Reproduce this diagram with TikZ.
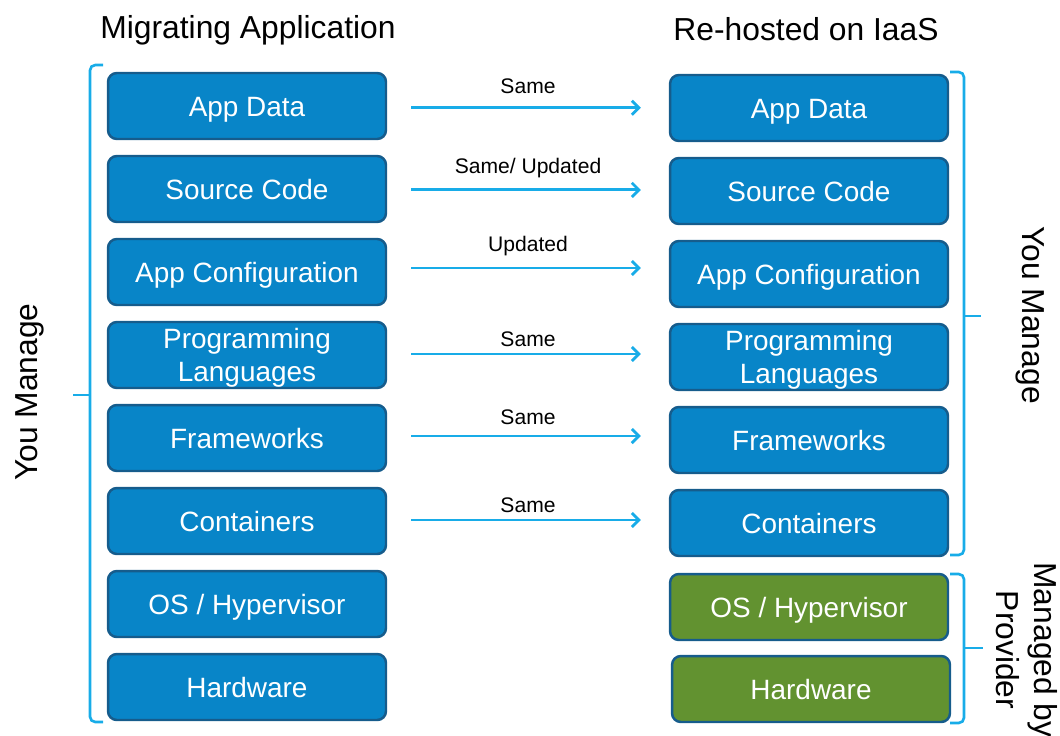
\documentclass[tikz,border=0pt]{standalone}
\usepackage{fontspec}
\setmainfont{Liberation Sans}
\usepackage{xcolor}
\usetikzlibrary{arrows.meta, positioning}
\definecolor{boxblue}{RGB}{8, 133, 200}
\definecolor{edgeblue}{RGB}{22, 92, 140}
\definecolor{provgreen}{RGB}{98, 146, 48}
\definecolor{linkblue}{RGB}{24, 172, 232}

\begin{document}
\begin{tikzpicture}[x=0.02cm,y=-0.02cm,
          layer/.style={draw=edgeblue,line width=1.4pt,fill=boxblue,
                        rounded corners=5pt,minimum width=5.56cm,minimum height=1.32cm,
                        text=white,align=center,inner sep=2pt,
                        text height=11.4pt,text depth=0pt,
                        font=\fontsize{15.9}{19}\selectfont},
          twoline/.style={text height=30.4pt,text depth=0pt},
          prov/.style={layer,fill=provgreen},
          flow/.style={linkblue,line width=1.6pt,shorten <=13.6pt,shorten >=15.9pt,
                       -{Straight Barb[length=4pt,width=8pt]}},
          tag/.style={font=\fontsize{12}{14}\selectfont,text=black},
          brace/.style={linkblue,line width=1.5pt,rounded corners=3pt},
          head/.style={font=\fontsize{18.1}{21.7}\selectfont}]
        \useasboundingbox (0,0) rectangle (1060,735);
        % column titles
        \node[head](hl) at (248,30) {Migrating Application};
        \node[head](hr) at (806,29) {Re-hosted on IaaS};
        % migrating stack
        \node[layer](l1) at (247,106) {App Data};
        \node[layer](l2) at (247,189) {Source Code};
        \node[layer](l3) at (247,272) {App Configuration};
        \node[layer,twoline](l4) at (247,355) {Programming\\Languages};
        \node[layer](l5) at (247,438) {Frameworks};
        \node[layer](l6) at (247,521) {Containers};
        \node[layer](l7) at (247,604) {OS / Hypervisor};
        \node[layer](l8) at (247,687) {Hardware};
        % IaaS stack
        \node[layer](r1) at (809,108) {App Data};
        \node[layer](r2) at (809,191) {Source Code};
        \node[layer](r3) at (809,274) {App Configuration};
        \node[layer,twoline](r4) at (809,357) {Programming\\Languages};
        \node[layer](r5) at (809,440) {Frameworks};
        \node[layer](r6) at (809,523) {Containers};
        \node[prov](r7) at (809,607) {OS / Hypervisor};
        \node[prov](r8) at (811,689) {Hardware};
        % what changes
        \draw[flow] ([yshift=-1pt]l1.east) -- ([yshift=-1pt]l1.east -| r1.west)
          node[midway,tag,above=4pt]{Same};
        \draw[flow] ([yshift=-0.5pt]l2.east) -- ([yshift=-0.5pt]l2.east -| r2.west)
          node[midway,tag,above=2.9pt]{Same/ Updated};
        \draw[flow] ([yshift=2.3pt]l3.east) -- ([yshift=2.3pt]l3.east -| r3.west)
          node[midway,tag,above=2.9pt]{Updated};
        \draw[flow] ([yshift=0.6pt]l4.east) -- ([yshift=0.6pt]l4.east -| r4.west)
          node[midway,tag,above=0pt]{Same};
        \draw[flow] ([yshift=1.1pt]l5.east) -- ([yshift=1.1pt]l5.east -| r5.west)
          node[midway,tag,above=2.3pt]{Same};
        \draw[flow] ([yshift=0.6pt]l6.east) -- ([yshift=0.6pt]l6.east -| r6.west)
          node[midway,tag,above=0pt]{Same};
        % brackets
        \draw[brace] (103,65) -- (90,65) -- (90,722) -- (103,722);
        \draw[brace] (90,395) -- (73,395);
        \draw[brace] (950,72) -- (964,72) -- (964,555) -- (950,555);
        \draw[brace] (964,316) -- (981,316);
        \draw[brace] (950,574) -- (964,574) -- (964,723) -- (950,723);
        \draw[brace] (964,648) -- (983,648);
        \node[head,rotate=90](ml) at (30,392) {You Manage};
        \node[head,rotate=-90](mr) at (1030,315) {You Manage};
        \node[head,rotate=-90,align=center](mp) at (1027,650) {Managed by\\Provider};
      \end{tikzpicture}
\end{document}
